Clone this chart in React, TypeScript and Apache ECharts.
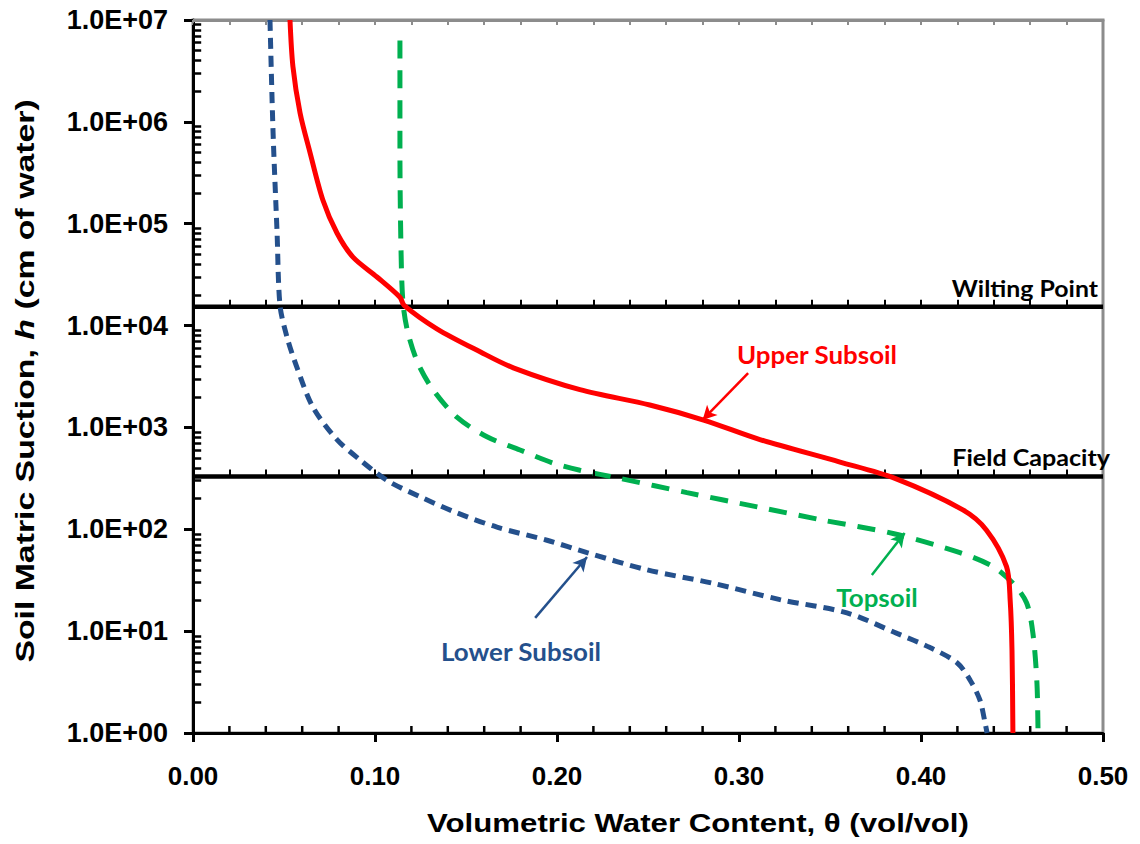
import React, { useEffect, useRef } from "react";
import * as echarts from "echarts";

// ---- data (θ vol/vol, h cm of water) ----
const upperTheta = [0.0533, 0.0549, 0.0588, 0.0643, 0.0714, 0.0791, 0.0879, 0.1011, 0.1137, 0.116, 0.134, 0.158, 0.176, 0.2126, 0.251, 0.281, 0.3115, 0.3555, 0.3857, 0.423, 0.436, 0.447, 0.449, 0.45, 0.4505];
const upperH = [1.0e7, 3.5e6, 1.23e6, 5.0e5, 1.7e5, 8.1e4, 4.7e4, 3.0e4, 1.9e4, 1.58e4, 9300, 5500, 3850, 2350, 1660, 1175, 760, 457, 316, 155, 98, 43, 20, 6.5, 1];

const topTheta = [0.1137, 0.1137, 0.1143, 0.1154, 0.1181, 0.1236, 0.1319, 0.145, 0.1615, 0.1797, 0.1978, 0.2126, 0.2346, 0.2714, 0.31, 0.346, 0.3846, 0.4214, 0.4396, 0.4505, 0.458, 0.4615, 0.4637, 0.4643];
const topH = [6.3e6, 5.3e5, 5.5e4, 1.66e4, 8500, 4270, 2340, 1260, 810, 600, 447, 380, 316, 229, 166, 123, 91, 59, 43, 29.5, 19, 9.5, 3.1, 1];

const lowerTheta = [0.0423, 0.044, 0.0462, 0.0478, 0.0516, 0.0571, 0.0659, 0.0791, 0.0918, 0.1066, 0.1247, 0.145, 0.167, 0.1945, 0.2165, 0.2495, 0.2857, 0.3225, 0.3593, 0.3868, 0.405, 0.4198, 0.427, 0.4324, 0.4352, 0.4363];
const lowerH = [1.0e7, 7.8e5, 8.1e4, 1.58e4, 7760, 3890, 1580, 760, 480, 302, 209, 145, 105, 78, 59, 40, 29.5, 20.4, 15.1, 9.5, 6.9, 4.9, 3.3, 2.1, 1.26, 1];

const wiltingPointH = 15300;
const fieldCapacityH = 330;
const thetaRange = [0, 0.5];
const hRange = [1, 1e7];

// annotation arrows: [fromθ, fromH, toθ, toH]
const upperArrow = [0.305, 3420, 0.28, 1183];
const topArrow = [0.373, 35.6, 0.391, 91.9];
const lowerArrow = [0.188, 13.5, 0.2165, 53.4];

const yDecades = [1, 10, 100, 1000, 10000, 100000, 1000000];
const yMinorMult = [2, 3, 4, 5, 6, 7, 8, 9];
const xMinorTicks = [0.02, 0.04, 0.06, 0.08, 0.12, 0.14, 0.16, 0.18, 0.22, 0.24, 0.26, 0.28, 0.32, 0.34, 0.36, 0.38, 0.42, 0.44, 0.46, 0.48];
const xAllTicks = [0.02, 0.04, 0.06, 0.08, 0.1, 0.12, 0.14, 0.16, 0.18, 0.2, 0.22, 0.24, 0.26, 0.28, 0.3, 0.32, 0.34, 0.36, 0.38, 0.4, 0.42, 0.44, 0.46, 0.48];
const yTickLenTheta = 0.0045; // length of y minor ticks in θ units
const refTickFactor = 1.17; // height of small ticks on reference lines (ratio in h)

const zip = (a: number[], b: number[]) => a.map((v, i) => [v, b[i]]);

const AXIS_FONT = "'Liberation Sans', Arial, sans-serif";
const NOTE_FONT = "Lato, 'Open Sans', sans-serif";

function arrowMark(arr: number[], color: string) {
  return {
    silent: true,
    symbol: ["none", "arrow"],
    symbolSize: [11, 14],
    label: { show: false },
    lineStyle: { color, width: 2.5, type: "solid" },
    data: [[{ coord: [arr[0], arr[1]] }, { coord: [arr[2], arr[3]] }]],
  };
}

export default function App() {
  const ref = useRef<HTMLDivElement>(null);
  useEffect(() => {
    if (!ref.current) return;
    const chart = echarts.init(ref.current, null, { renderer: "svg" });
    const yMinorSegs: any[] = [];
    yDecades.forEach((d) =>
      yMinorMult.forEach((m) =>
        yMinorSegs.push([{ coord: [thetaRange[0], d * m] }, { coord: [thetaRange[0] + yTickLenTheta, d * m] }])
      )
    );
    const refSegs: any[] = [];
    xAllTicks.forEach((t) => {
      refSegs.push([{ coord: [t, wiltingPointH] }, { coord: [t, wiltingPointH * refTickFactor] }]);
      refSegs.push([{ coord: [t, fieldCapacityH] }, { coord: [t, fieldCapacityH * refTickFactor] }]);
    });
    const option = {
      animation: false,
      backgroundColor: "#fff",
      grid: { left: 193, right: 37, top: 20, bottom: 111, show: true, borderColor: "#8c8c8c", borderWidth: 3 },
      xAxis: [
        {
          type: "value",
          min: thetaRange[0],
          max: thetaRange[1],
          interval: 0.1,
          axisLine: { show: true, lineStyle: { color: "#000", width: 3 } },
          axisTick: { show: true, length: 9, lineStyle: { color: "#000", width: 3 } },
          axisLabel: { margin: 30, fontFamily: AXIS_FONT, fontWeight: "bold", fontSize: 26, color: "#000", formatter: (v: number) => v.toFixed(2) },
          splitLine: { show: false },
        },
        {
          type: "value",
          position: "top",
          min: thetaRange[0],
          max: thetaRange[1],
          interval: 0.02,
          axisLine: { show: true, lineStyle: { color: "#8c8c8c", width: 3 } },
          axisTick: { show: true, inside: true, length: 5, lineStyle: { color: "#8c8c8c", width: 2 } },
          axisLabel: { show: false },
          splitLine: { show: false },
        },
      ],
      yAxis: {
        type: "log",
        logBase: 10,
        min: hRange[0],
        max: hRange[1],
        splitNumber: 7,
        axisLine: { show: true, lineStyle: { color: "#000", width: 3 } },
        axisTick: { show: true, length: 9, lineStyle: { color: "#000", width: 3 } },
        axisLabel: {
          margin: 25, fontFamily: AXIS_FONT, fontWeight: "bold", fontSize: 27, color: "#000",
          formatter: (v: number) => {
            const e = Math.round(Math.log10(v));
            return "1.0E+" + (e < 10 ? "0" + e : "" + e);
          },
        },
        splitLine: { show: false },
      },
      series: [
        {
          name: "Wilting Point", type: "line", symbol: "none", silent: true,
          data: [[thetaRange[0], wiltingPointH], [thetaRange[1], wiltingPointH]],
          lineStyle: { color: "#000", width: 4.5 }, z: 3,
          markLine: {
            silent: true, symbol: ["none", "none"], label: { show: false },
            lineStyle: { color: "#000", width: 2.5, type: "solid" },
            data: yMinorSegs,
          },
        },
        {
          name: "Field Capacity", type: "line", symbol: "none", silent: true,
          data: [[thetaRange[0], fieldCapacityH], [thetaRange[1], fieldCapacityH]],
          lineStyle: { color: "#000", width: 4.5 }, z: 3,
          markLine: {
            silent: true, symbol: ["none", "none"], label: { show: false },
            lineStyle: { color: "#000", width: 2, type: "solid" },
            data: refSegs,
          },
        },
        {
          name: "Lower Subsoil", type: "line", symbol: "none", smooth: 0.3,
          data: zip(lowerTheta, lowerH),
          lineStyle: { color: "#24508c", width: 5, type: [11, 7] }, z: 4,
          markLine: arrowMark(lowerArrow, "#24508c"),
        },
        {
          name: "Topsoil", type: "line", symbol: "none", smooth: 0.3,
          data: zip(topTheta, topH),
          lineStyle: { color: "#00b050", width: 5, type: [18, 12] }, z: 4,
          markLine: arrowMark(topArrow, "#00b050"),
        },
        {
          name: "Upper Subsoil", type: "line", symbol: "none", smooth: 0.3,
          data: zip(upperTheta, upperH),
          lineStyle: { color: "#ff0000", width: 5 }, z: 5,
          markLine: arrowMark(upperArrow, "#ff0000"),
        },
        {
          name: "xMinorTicks", type: "custom", silent: true, z: 6, clip: false,
          data: xMinorTicks.map((t) => [t, hRange[0]]),
          renderItem: (params: any, api: any) => {
            const p = api.coord([api.value(0), api.value(1)]);
            return { type: "rect", shape: { x: p[0] - 1.25, y: p[1] - 7, width: 2.5, height: 7 }, style: { fill: "#000" } };
          },
        },
      ],
      graphic: [
        {
          type: "text", x: 698, y: 823, scaleX: 1.2,
          style: { text: "Volumetric Water Content, θ (vol/vol)", fill: "#000", font: `bold 26px ${AXIS_FONT}`, textAlign: "center", textVerticalAlign: "middle" },
        },
        {
          type: "text", x: 25, y: 381, rotation: Math.PI / 2, scaleX: 1.3,
          style: {
            text: "Soil Matric Suction, {i|h} (cm of water)", fill: "#000", font: `bold 26px ${AXIS_FONT}`, textAlign: "center", textVerticalAlign: "middle",
            rich: { i: { fontFamily: AXIS_FONT, fontWeight: "bold", fontStyle: "italic", fontSize: 26, fill: "#000" } },
          },
        },
        { type: "text", x: 817, y: 354, scaleX: 1.08, style: { text: "Upper Subsoil", fill: "#ff0000", font: `bold 24px ${NOTE_FONT}`, textAlign: "center", textVerticalAlign: "middle" } },
        { type: "text", x: 877, y: 597, scaleX: 1.08, style: { text: "Topsoil", fill: "#00b050", font: `bold 24px ${NOTE_FONT}`, textAlign: "center", textVerticalAlign: "middle" } },
        { type: "text", x: 521, y: 651, scaleX: 1.08, style: { text: "Lower Subsoil", fill: "#24508c", font: `bold 24px ${NOTE_FONT}`, textAlign: "center", textVerticalAlign: "middle" } },
        { type: "text", x: 1098, y: 289, scaleX: 1.13, style: { text: "Wilting Point", fill: "#000", font: `bold 22px ${NOTE_FONT}`, textAlign: "right", textVerticalAlign: "middle" } },
        { type: "text", x: 1110, y: 458, scaleX: 1.14, style: { text: "Field Capacity", fill: "#000", font: `bold 22px ${NOTE_FONT}`, textAlign: "right", textVerticalAlign: "middle" } },
      ],
    };
    chart.setOption(option as any);
    return () => chart.dispose();
  }, []);
  return <div ref={ref} style={{ position: "fixed", left: 0, top: 0, width: 1140, height: 844 }} />;
}
